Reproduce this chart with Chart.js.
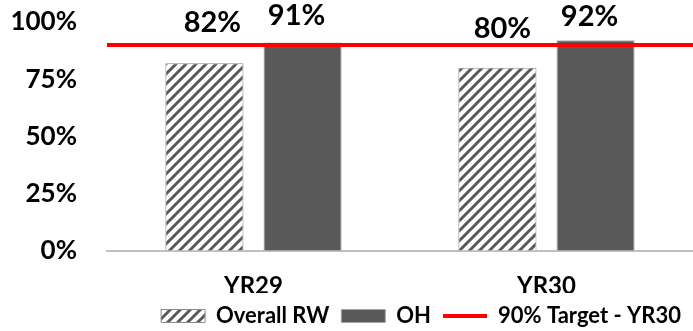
<!DOCTYPE html>
<html>
<head>
<meta charset="utf-8">
<script src="https://cdn.jsdelivr.net/npm/chart.js@4.4.1/dist/chart.umd.min.js"></script>
<style>
  html, body { margin: 0; padding: 0; background: #fff; overflow: hidden; }
  #wrap { width: 693px; height: 331px; position: relative; }
</style>
</head>
<body>
<div id="wrap"><canvas id="chart"></canvas></div>
<script>
// Categories and series
const categories = ['YR29', 'YR30'];
const overallRW = [82, 80];
const oh = [91, 92];
const target = [90, 90];
const targetLabel = '90% Target - YR30';
const yTicks = [0, 25, 50, 75, 100];

const FONT = "'Lato', 'Noto Sans', sans-serif";
const DARK = '#595959';
const RED = '#ff0000';

// Diagonal "///" hatch fill used for the Overall RW bars
function hatchPattern(color, size) {
  const c = document.createElement('canvas');
  c.width = c.height = size;
  const g = c.getContext('2d');
  g.fillStyle = '#ffffff';
  g.fillRect(0, 0, size, size);
  g.strokeStyle = color;
  g.lineWidth = 3;
  g.beginPath();
  g.moveTo(-1, size + 1); g.lineTo(size + 1, -1);
  g.moveTo(-size / 2, size / 2); g.lineTo(size / 2, -size / 2);
  g.moveTo(size / 2, size * 1.5); g.lineTo(size * 1.5, size / 2);
  g.stroke();
  return g.createPattern(c, 'repeat');
}

// Target line across the whole plot, placed with the y scale
const targetLine = {
  id: 'targetLine',
  afterDatasetsDraw(chart, args, opts) {
    const { ctx, chartArea, scales } = chart;
    const y = scales.y.getPixelForValue(target[0]);
    ctx.save();
    ctx.strokeStyle = opts.color;
    ctx.lineWidth = opts.width;
    ctx.beginPath();
    ctx.moveTo(chartArea.left, y);
    ctx.lineTo(chartArea.right, y);
    ctx.stroke();
    ctx.restore();
  }
};

// Percentage labels above each bar
const valueLabels = {
  id: 'valueLabels',
  afterDatasetsDraw(chart, args, opts) {
    const ctx = chart.ctx;
    ctx.save();
    ctx.font = opts.font;
    ctx.fillStyle = opts.color;
    ctx.textAlign = 'center';
    ctx.textBaseline = 'middle';
    chart.data.datasets.forEach((ds, i) => {
      const meta = chart.getDatasetMeta(i);
      meta.data.forEach((bar, j) => {
        ctx.fillText(ds.data[j] + '%', bar.x + opts.shift[i][j], bar.y - opts.lift[i][j]);
      });
    });
    ctx.restore();
  }
};

new Chart(document.getElementById('chart'), {
  type: 'bar',
  data: {
    labels: categories,
    datasets: [
      {
        label: 'Overall RW',
        data: overallRW,
        backgroundColor: hatchPattern(DARK, 10),
        borderColor: '#8c8c8c',
        borderWidth: 1,
        pointStyle: 'rect',
        categoryPercentage: 0.67,
        barPercentage: 0.796
      },
      {
        label: 'OH',
        data: oh,
        backgroundColor: DARK,
        borderColor: '#a6a6a6',
        borderWidth: 1,
        pointStyle: 'rect',
        categoryPercentage: 0.67,
        barPercentage: 0.796
      }
    ]
  },
  options: {
    responsive: true,
    maintainAspectRatio: false,
    animation: false,
    layout: { padding: { top: 22, right: 0, bottom: -6, left: 0 } },
    scales: {
      x: {
        afterFit(scale) { scale.height = 42; },
        grid: { display: true, drawOnChartArea: false, drawTicks: false },
        border: { display: true, color: '#bfbfbf', width: 2 },
        ticks: { color: '#000', font: { family: FONT, size: 24, weight: 'bold' }, padding: 21 }
      },
      y: {
        min: 0,
        max: 100,
        afterBuildTicks(scale) { scale.ticks = yTicks.map(v => ({ value: v })); },
        afterFit(scale) { scale.width = 107; },
        grid: { display: true, drawOnChartArea: false, drawTicks: true, tickLength: 30, color: 'rgba(0,0,0,0)' },
        border: { display: false },
        ticks: {
          color: '#000',
          padding: 0,
          font: { family: FONT, size: 26, weight: 'bold' },
          callback: v => v + '%'
        }
      }
    },
    plugins: {
      legend: {
        position: 'bottom',
        align: 'end',
        labels: {
          usePointStyle: true,
          pointStyleWidth: 44,
          boxHeight: 13,
          padding: 12,
          color: '#000',
          font: { family: FONT, size: 22, weight: 'bold' },
          generateLabels(chart) {
            const items = Chart.defaults.plugins.legend.labels.generateLabels(chart);
            items.push({
              text: targetLabel,
              fillStyle: RED,
              strokeStyle: RED,
              lineWidth: 4,
              pointStyle: 'line',
              hidden: false,
              datasetIndex: -1,
              fontColor: '#000'
            });
            return items;
          }
        }
      },
      tooltip: { enabled: false },
      targetLine: { color: RED, width: 4 },
      valueLabels: {
        font: "bold 29px 'Lato', 'Noto Sans', sans-serif",
        color: '#000',
        lift: [[41, 39], [27, 24]],
        shift: [[8, 5], [-6, -6]]
      }
    }
  },
  plugins: [targetLine, valueLabels]
});
</script>
</body>
</html>
